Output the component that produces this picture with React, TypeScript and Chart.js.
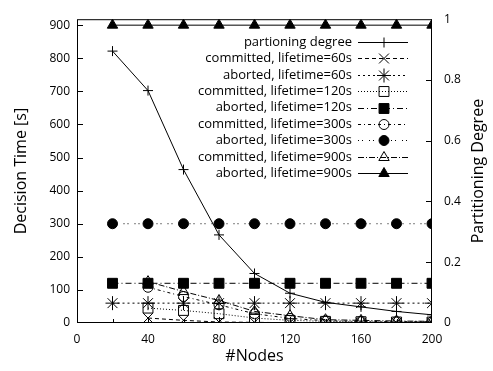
import React, { useEffect, useRef } from "react";
import { Chart, registerables } from "chart.js";
import { drawPoint } from "chart.js/helpers";

Chart.register(...registerables);

const nodes = [20, 40, 60, 80, 100, 120, 140, 160, 180, 200];
const partDegree = [0.895, 0.765, 0.505, 0.29, 0.163, 0.098, 0.068, 0.053, 0.038, 0.027];
const aborted60 = [60, 60, 60, 60, 60, 60, 60, 60, 60, 60];
const aborted120 = [120, 120, 120, 120, 120, 120, 120, 120, 120, 120];
const aborted300 = [300, 300, 300, 300, 300, 300, 300, 300, 300, 300];
const aborted900 = [900, 900, 900, 900, 900, 900, 900, 900, 900, 900];
const committedNodes = [40, 60, 80, 100, 120, 140, 160, 180, 200];
const committed60 = [15, 8, 3, 2, 1, 1, 1, 1, 1];
const committed120 = [45, 38, 28, 15, 8, 5, 4, 3, 3];
const committed300 = [108, 80, 55, 28, 14, 7, 5, 4, 4];
const committed900 = [125, 95, 68, 35, 22, 10, 8, 6, 5];
const leftTicks = [0, 100, 200, 300, 400, 500, 600, 700, 800, 900];
const rightTicks = [0, 0.2, 0.4, 0.6, 0.8, 1];
const xTicks = [0, 40, 80, 120, 160, 200];

const FONT = "'Open Sans', 'DejaVu Sans', sans-serif";

const pts = (xs: number[], ys: number[]) => xs.map((x, i) => ({ x, y: ys[i] }));

type Spec = {
  label: string;
  xs: number[];
  ys: number[];
  axis: string;
  style: string;
  r: number;
  fill: boolean;
  dash: number[];
};

const specs: Spec[] = [
  { label: "partioning degree", xs: nodes, ys: partDegree, axis: "y2", style: "cross", r: 5, fill: false, dash: [] },
  { label: "committed, lifetime=60s", xs: committedNodes, ys: committed60, axis: "y", style: "crossRot", r: 7, fill: false, dash: [4, 3] },
  { label: "aborted, lifetime=60s", xs: nodes, ys: aborted60, axis: "y", style: "star", r: 7, fill: false, dash: [2, 3] },
  { label: "committed, lifetime=120s", xs: committedNodes, ys: committed120, axis: "y", style: "rect", r: 7, fill: false, dash: [1, 2] },
  { label: "aborted, lifetime=120s", xs: nodes, ys: aborted120, axis: "y", style: "rect", r: 7, fill: true, dash: [6, 3, 1, 3] },
  { label: "committed, lifetime=300s", xs: committedNodes, ys: committed300, axis: "y", style: "circle", r: 5, fill: false, dash: [3, 3, 1, 3] },
  { label: "aborted, lifetime=300s", xs: nodes, ys: aborted300, axis: "y", style: "circle", r: 5, fill: true, dash: [1, 3, 1, 6] },
  { label: "committed, lifetime=900s", xs: committedNodes, ys: committed900, axis: "y", style: "triangle", r: 6, fill: false, dash: [6, 2, 1, 2] },
  { label: "aborted, lifetime=900s", xs: nodes, ys: aborted900, axis: "y", style: "triangle", r: 6, fill: true, dash: [] },
];

const framePlugin = {
  id: "frame",
  beforeDatasetsDraw(chart: any) {
    const { ctx, chartArea: a, scales } = chart;
    ctx.save();
    ctx.strokeStyle = "#000";
    ctx.lineWidth = 1;
    ctx.setLineDash([]);
    ctx.strokeRect(a.left + 0.5, a.top + 0.5, a.right - a.left - 1, a.bottom - a.top - 1);
    ctx.beginPath();
    for (const v of leftTicks) {
      if (v === 0) continue;
      const y = Math.round(scales.y.getPixelForValue(v)) + 0.5;
      ctx.moveTo(a.left, y);
      ctx.lineTo(a.left + 6, y);
    }
    for (const v of rightTicks) {
      if (v === 0 || v === 1) continue;
      const y = Math.round(scales.y2.getPixelForValue(v)) + 0.5;
      ctx.moveTo(a.right, y);
      ctx.lineTo(a.right - 6, y);
    }
    for (let v = 20; v < 200; v += 20) {
      const x = Math.round(scales.x.getPixelForValue(v)) + 0.5;
      ctx.moveTo(x, a.bottom);
      ctx.lineTo(x, a.bottom - (v % 40 === 0 ? 6 : 4));
    }
    ctx.stroke();
    ctx.restore();
  },
  afterDraw(chart: any) {
    const { ctx, chartArea: a } = chart;
    ctx.save();
    ctx.fillStyle = "#000";
    ctx.font = `16px ${FONT}`;
    ctx.textAlign = "center";
    ctx.textBaseline = "middle";
    ctx.translate(478, (a.top + a.bottom) / 2);
    ctx.rotate(-Math.PI / 2);
    ctx.fillText("Partitioning Degree", 0, 0);
    ctx.restore();

    ctx.save();
    ctx.font = `13px ${FONT}`;
    ctx.textAlign = "right";
    ctx.textBaseline = "middle";
    ctx.fillStyle = "#000";
    ctx.strokeStyle = "#000";
    ctx.lineWidth = 1;
    specs.forEach((s, i) => {
      const y = 42 + i * 16.4;
      ctx.setLineDash([]);
      ctx.fillStyle = "#000";
      ctx.fillText(s.label, 352, y);
      ctx.beginPath();
      ctx.setLineDash(s.dash);
      ctx.moveTo(358, Math.round(y) + 0.5);
      ctx.lineTo(408, Math.round(y) + 0.5);
      ctx.stroke();
      ctx.setLineDash([]);
      ctx.fillStyle = s.fill ? "#000" : "rgba(0,0,0,0)";
      drawPoint(ctx, { pointStyle: s.style, radius: s.r, rotation: 0, borderWidth: 1 } as any, 384, Math.round(y) + 0.5);
    });
    ctx.restore();
  },
};

export default function App() {
  const ref = useRef<HTMLCanvasElement>(null);
  useEffect(() => {
    document.body.style.margin = "0";
    const canvas = ref.current!;
    const chart = new Chart(canvas, {
      type: "line",
      data: {
        datasets: specs.map((s) => ({
          label: s.label,
          data: pts(s.xs, s.ys),
          yAxisID: s.axis,
          borderColor: "#000",
          borderWidth: 1,
          borderDash: s.dash,
          pointStyle: s.style as any,
          pointRadius: s.r,
          pointBorderWidth: 1,
          pointBorderColor: "#000",
          pointBackgroundColor: s.fill ? "#000" : "rgba(0,0,0,0)",
          fill: false,
          tension: 0,
        })),
      },
      options: {
        animation: false,
        responsive: false,
        events: [],
        layout: { padding: { top: 14, left: 0, right: 0, bottom: 0 } },
        plugins: { legend: { display: false }, tooltip: { enabled: false } },
        scales: {
          x: {
            type: "linear",
            min: 0,
            max: 200,
            grid: { display: false, drawTicks: false },
            border: { display: false },
            afterBuildTicks: (scale: any) => {
              scale.ticks = xTicks.map((v) => ({ value: v }));
            },
            afterFit: (scale: any) => {
              scale.height = 48;
            },
            ticks: { color: "#000", font: { family: FONT, size: 12 }, padding: 9, maxRotation: 0 },
            title: { display: true, text: "#Nodes", color: "#000", font: { family: FONT, size: 16 }, padding: { top: 0, bottom: 5 } },
          },
          y: {
            type: "linear",
            position: "left",
            min: 0,
            max: 918,
            grid: { display: false, drawTicks: false },
            border: { display: false },
            afterBuildTicks: (scale: any) => {
              scale.ticks = leftTicks.map((v) => ({ value: v }));
            },
            afterFit: (scale: any) => {
              scale.width = 77;
            },
            ticks: { color: "#000", font: { family: FONT, size: 12 }, padding: 7 },
            title: { display: true, text: "Decision Time [s]", color: "#000", font: { family: FONT, size: 16 }, padding: { top: 12, bottom: 0 } },
          },
          y2: {
            type: "linear",
            position: "right",
            min: 0,
            max: 1,
            grid: { display: false, drawTicks: false },
            border: { display: false },
            afterBuildTicks: (scale: any) => {
              scale.ticks = rightTicks.map((v) => ({ value: v }));
            },
            afterFit: (scale: any) => {
              scale.width = 61;
            },
            ticks: {
              color: "#000",
              font: { family: FONT, size: 12 },
              padding: 12,
              callback: (v: any) => String(Number(Number(v).toFixed(1))),
            },
          },
        },
      },
      plugins: [framePlugin],
    });
    return () => chart.destroy();
  }, []);
  return <canvas ref={ref} width={493} height={371} style={{ display: "block" }} />;
}
